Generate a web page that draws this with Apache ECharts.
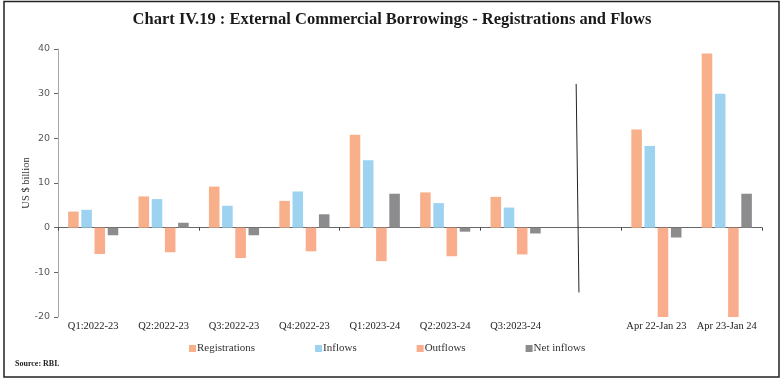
<!DOCTYPE html>
<html>
<head>
<meta charset="utf-8">
<script src="https://cdn.jsdelivr.net/npm/echarts@6/dist/echarts.min.js"></script>
<style>html,body{margin:0;padding:0;background:#fff;}#c{width:784px;height:382px;}</style>
</head>
<body>
<div id="c"></div>
<script>
var categories = ['Q1:2022-23','Q2:2022-23','Q3:2022-23','Q4:2022-23','Q1:2023-24','Q2:2023-24','Q3:2023-24','','Apr 22-Jan 23','Apr 23-Jan 24'];
var registrations = [3.6, 7.0, 9.2, 6.0, 20.8, 7.9, 6.9, null, 22.0, 39.0];
var inflows       = [4.0, 6.4, 4.9, 8.1, 15.1, 5.5, 4.5, null, 18.3, 30.0];
var outflows      = [-5.9, -5.5, -6.8, -5.3, -7.5, -6.4, -6.0, null, -20, -20];
var netInflows    = [-1.7, 1.1, -1.7, 3.0, 7.6, -0.9, -1.3, null, -2.2, 7.6];
var yTicks = { min: -20, max: 40, interval: 10 };
var divider = [[7.36, 32.2], [7.40, -14.5]];

var serif = 'Liberation Serif';
var chart = echarts.init(document.getElementById('c'), null, { renderer: 'canvas' });
function bar(name, data, color) {
  return {
    name: name, type: 'bar', data: data, xAxisIndex: 0,
    barWidth: '15%', barGap: '25%',
    itemStyle: { color: color },
    silent: true
  };
}
chart.setOption({
  animation: false,
  title: {
    text: 'Chart IV.19 : External Commercial Borrowings - Registrations and Flows',
    left: 'center', top: 6,
    textStyle: { fontFamily: serif, fontSize: 16.5, fontWeight: 'bold', color: '#1a1a1a' }
  },
  legend: {
    left: 184, top: 338,
    itemWidth: 7, itemHeight: 7, itemGap: 60,
    icon: 'rect',
    data: ['Registrations', 'Inflows', 'Outflows', 'Net inflows'],
    textStyle: { fontFamily: serif, fontSize: 11, color: '#333', padding: [0, 0, 0, -4] }
  },
  grid: { left: 58, right: 22, top: 49, bottom: 65 },
  xAxis: [
    {
      type: 'category', data: categories, position: 'bottom',
      axisLine: { show: false, onZero: false }, axisTick: { show: false },
      axisLabel: { fontFamily: serif, fontSize: 10.5, color: '#222', margin: 4, interval: 0 }
    },
    {
      type: 'category', data: categories, position: 'bottom',
      axisLine: { show: true, onZero: true, lineStyle: { color: '#666', width: 1 } },
      axisTick: { show: true, length: 3, lineStyle: { color: '#444' } },
      axisLabel: { show: false }
    },
    {
      type: 'value', min: 0, max: categories.length, show: false
    }
  ],
  yAxis: {
    type: 'value', min: yTicks.min, max: yTicks.max, interval: yTicks.interval,
    name: 'US $ billion', nameLocation: 'middle', nameGap: 26, nameRotate: 90,
    nameMoveOverlap: false,
    nameTextStyle: { fontFamily: serif, fontSize: 10.5, color: '#333' },
    axisLine: { show: true, lineStyle: { color: '#A6A6A6' } },
    axisTick: { show: true, length: 4, lineStyle: { color: '#666' } },
    axisLabel: { fontFamily: 'DejaVu Sans', fontSize: 9.5, color: '#595959', margin: 8 },
    splitLine: { show: false }
  },
  series: [
    bar('Registrations', registrations, '#F8B08A'),
    bar('Inflows', inflows, '#9DD2F0'),
    bar('Outflows', outflows, '#F9AD8C'),
    bar('Net inflows', netInflows, '#8C8C8E'),
    {
      name: 'divider', type: 'line', xAxisIndex: 2, data: divider,
      symbol: 'none', silent: true,
      lineStyle: { color: '#222', width: 1 }
    }
  ],
  graphic: [
    { type: 'rect', shape: { x: 4, y: 1.5, width: 775, height: 375.5 }, style: { fill: 'none', stroke: '#222', lineWidth: 1.5 }, silent: true },
    { type: 'text', left: 15, top: 360, style: { text: 'Source: RBI.', font: 'bold 8px "Liberation Serif"', fill: '#222' }, silent: true }
  ]
});
</script>
</body>
</html>
